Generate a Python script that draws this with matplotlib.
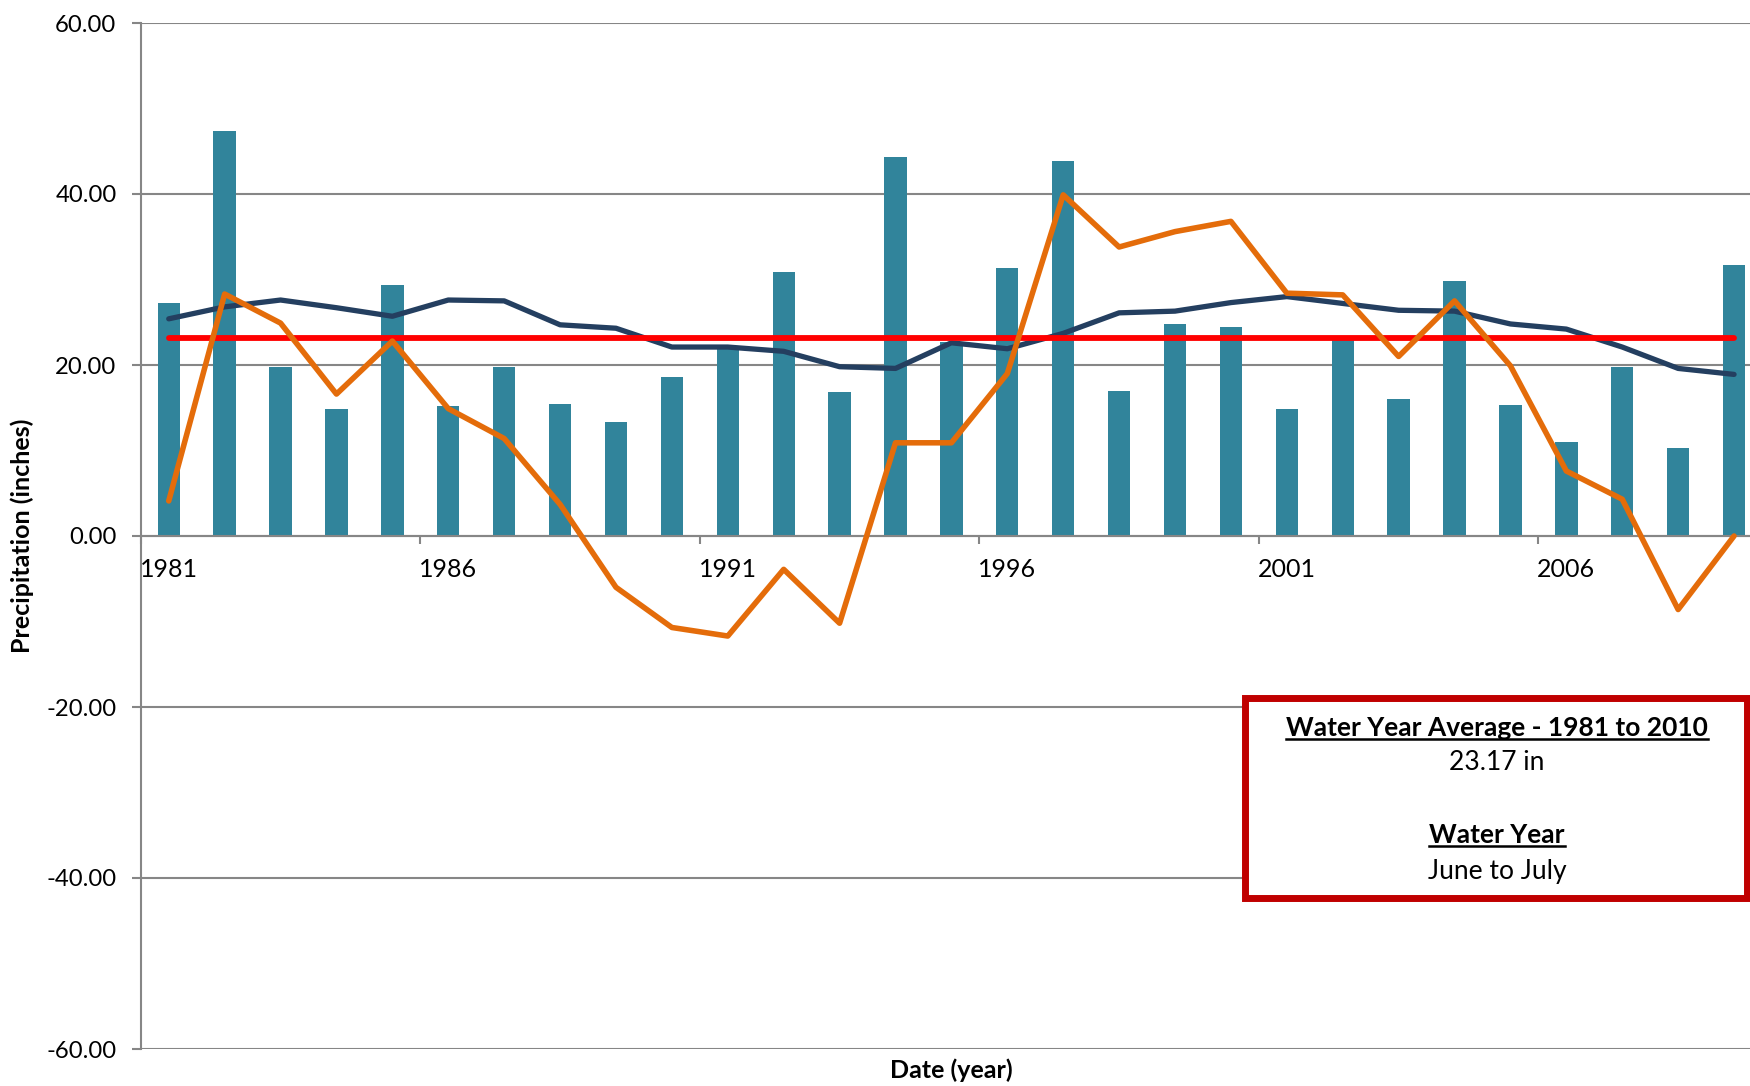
import matplotlib.pyplot as plt
from matplotlib.lines import Line2D
from matplotlib.patches import Rectangle
import numpy as np

plt.rcParams['font.family'] = ['Lato', 'DejaVu Sans']

years = list(range(1981, 2010))
precip = [27.2, 47.4, 19.8, 14.8, 29.4, 15.2, 19.8, 15.4, 13.3, 18.6,
          22.0, 30.9, 16.9, 44.3, 22.7, 31.3, 43.9, 17.0, 24.8, 24.5,
          14.8, 23.0, 16.0, 29.8, 15.3, 11.0, 19.8, 10.3, 31.7]
moving_avg = [25.4, 26.8, 27.6, 26.7, 25.7, 27.6, 27.5, 24.7, 24.3, 22.1,
              22.1, 21.6, 19.8, 19.6, 22.6, 21.9, 23.7, 26.1, 26.3, 27.3,
              28.0, 27.2, 26.4, 26.3, 24.8, 24.2, 22.1, 19.6, 18.9]
cum_departure = [4.1, 28.3, 24.9, 16.6, 22.8, 14.9, 11.4, 3.7, -6.0, -10.7,
                 -11.7, -3.9, -10.2, 10.9, 10.9, 19.0, 39.9, 33.8, 35.6, 36.8,
                 28.4, 28.2, 21.0, 27.5, 19.9, 7.6, 4.3, -8.6, 0.0]
average = 23.17

x = np.arange(len(years))
grid_col = '#868686'

fig = plt.figure(figsize=(17.5, 10.86), dpi=100)
ax = fig.add_axes([140.8 / 1750, 37 / 1086, (1762 - 140.8) / 1750, 1026 / 1086])

ax.bar(x, precip, width=0.4, color='#31849B', zorder=2)
ax.plot(x, moving_avg, color='#243F60', lw=3.8, zorder=3, solid_capstyle='round')
ax.plot(x, [average] * len(x), color='#FF0000', lw=4.2, zorder=4, solid_capstyle='round')
ax.plot(x, cum_departure, color='#E46C0A', lw=4, zorder=5, solid_capstyle='round')

ax.set_xlim(-0.5, len(years) - 0.5)
ax.set_ylim(-60, 60)
ax.set_yticks(np.arange(-60, 61, 20))
ax.set_yticklabels(['%.2f' % v for v in np.arange(-60, 61, 20)])
ax.yaxis.grid(True, color=grid_col, lw=1.5, zorder=0)
ax.set_axisbelow(True)

for s in ['top', 'right']:
    ax.spines[s].set_visible(False)
ax.spines['left'].set_color(grid_col)
ax.spines['left'].set_linewidth(1.5)
ax.spines['bottom'].set_position(('data', 0))
ax.spines['bottom'].set_color(grid_col)
ax.spines['bottom'].set_linewidth(1.5)

ax.tick_params(axis='y', length=6.5, width=1.5, color=grid_col, pad=11,
               labelsize=17.2, labelcolor='black')
ax.set_xticks(np.arange(-0.5, len(years), 5))
ax.set_xticklabels([])
ax.set_xticks(np.arange(0, len(years), 5), minor=True)
ax.set_xticklabels([str(years[i]) for i in range(0, len(years), 5)], minor=True)
ax.tick_params(axis='x', which='major', length=6, width=1.5, color=grid_col, direction='out')
ax.tick_params(axis='x', which='minor', length=0, pad=16, labelsize=18)

fig.text(22 / 1750, 1 - 536 / 1086, 'Precipitation (inches)', rotation=90,
         ha='center', va='center', fontsize=18, fontweight='bold')
fig.text(951 / 1750, 1 - 1070 / 1086, 'Date (year)', ha='center', va='center',
         fontsize=18, fontweight='bold')

# text box
box = Rectangle((1245 / 1750, 1 - 898 / 1086), (1747 - 1245) / 1750, (898 - 698) / 1086,
                transform=fig.transFigure, facecolor='white', edgecolor='#C00000',
                lw=5, zorder=10)
fig.patches.append(box)

cx = 1497 / 1750
lines = [('Water Year Average - 1981 to 2010', 728, True),
         ('23.17 in', 763, False),
         ('Water Year', 835, True),
         ('June to July', 871, False)]
texts = []
for s, yp, bold in lines:
    t = fig.text(cx, 1 - yp / 1086, s, ha='center', va='center', fontsize=19,
                 fontweight='bold' if bold else 'normal', zorder=11)
    texts.append((t, bold))

fig.canvas.draw()
r = fig.canvas.get_renderer()
for t, bold in texts:
    if bold:
        bb = t.get_window_extent(r)
        yy = bb.y0 + 1
        fig.lines.append(Line2D([bb.x0 / 1750, bb.x1 / 1750], [yy / 1086, yy / 1086],
                                transform=fig.transFigure, color='black', lw=1.8, zorder=12))

fig.savefig('out.png', dpi=100)
